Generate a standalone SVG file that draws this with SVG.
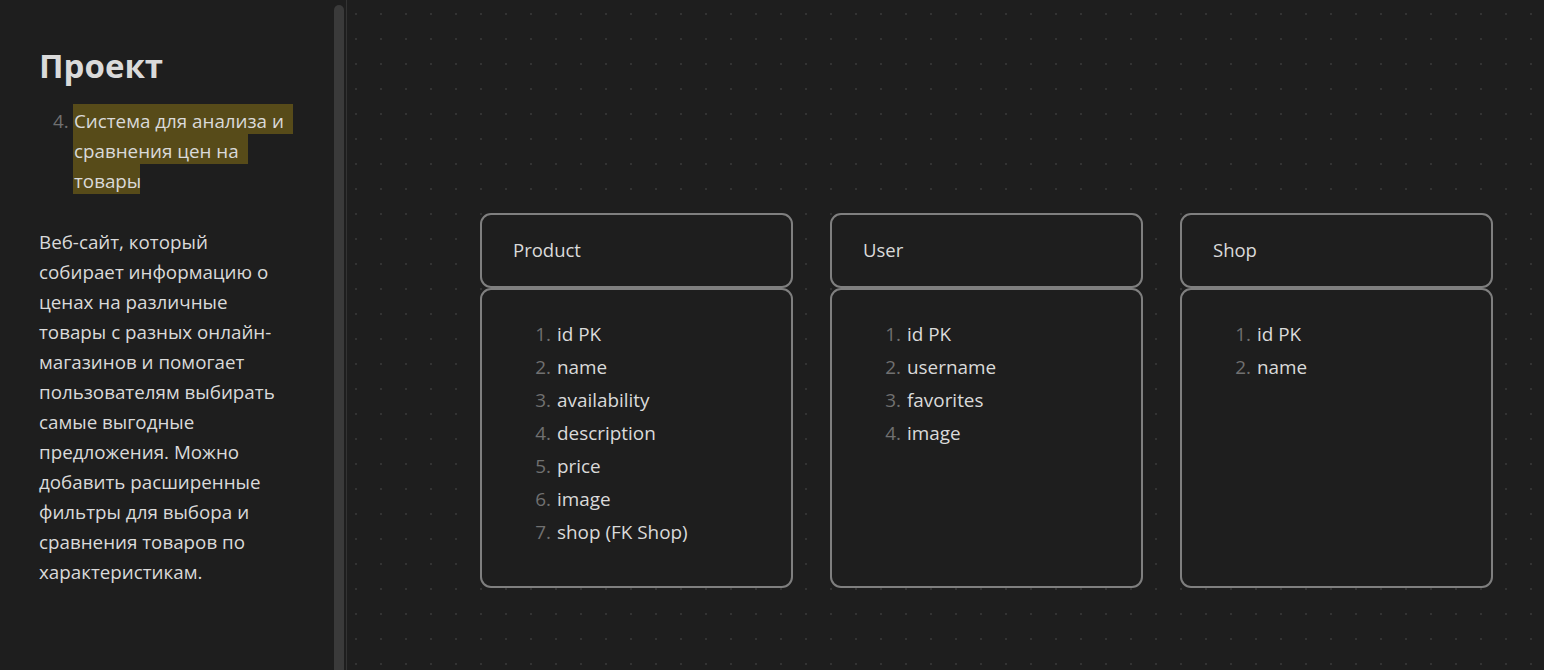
<svg xmlns="http://www.w3.org/2000/svg" width="1544" height="670" viewBox="0 0 1544 670">
  <defs>
    <pattern id="dots" x="355" y="13" width="25" height="25" patternUnits="userSpaceOnUse">
      <rect x="0" y="0" width="2" height="2" fill="#333333"/>
    </pattern>
    <style>
      .t { font-family: "Open Sans", "Noto Sans", sans-serif; fill: #dadada; }
      .side { font-size: 18.8px; }
      .num { fill: #707070; }
      .box { fill: #1e1e1e; stroke: #7f7f7f; stroke-width: 2; }
      .hd { font-size: 18.5px; }
      .it { font-size: 18.9px; }
      .hl { fill: #574b19; }
    </style>
  </defs>
  <rect x="0" y="0" width="1544" height="670" fill="#1e1e1e"/>
  <rect x="347" y="0" width="1197" height="670" fill="url(#dots)"/>
  <!-- scrollbar and divider -->
  <path d="M334 670 V10 A5 5 0 0 1 344 10 V670 Z" fill="#3a3a3a"/>
  <rect x="346" y="0" width="1" height="670" fill="#333333"/>

  <g id="sidebar">
    <text class="t" x="39" y="78" font-size="33" font-weight="bold">Проект</text>
    <rect class="hl" x="73" y="104" width="220" height="30"/>
    <rect class="hl" x="73" y="134" width="175" height="30"/>
    <rect class="hl" x="73" y="164" width="67" height="30"/>
    <text class="t side num" x="53" y="128">4.</text>
    <text class="t side" x="74" y="128">Система для анализа и</text>
    <text class="t side" x="74" y="158">сравнения цен на</text>
    <text class="t side" x="74" y="188">товары</text>
    <text class="t side" x="39" y="249">Веб-сайт, который</text>
    <text class="t side" x="39" y="279">собирает информацию о</text>
    <text class="t side" x="39" y="309">ценах на различные</text>
    <text class="t side" x="39" y="339">товары с разных онлайн-</text>
    <text class="t side" x="39" y="369">магазинов и помогает</text>
    <text class="t side" x="39" y="399">пользователям выбирать</text>
    <text class="t side" x="39" y="429">самые выгодные</text>
    <text class="t side" x="39" y="459">предложения. Можно</text>
    <text class="t side" x="39" y="489">добавить расширенные</text>
    <text class="t side" x="39" y="519">фильтры для выбора и</text>
    <text class="t side" x="39" y="549">сравнения товаров по</text>
    <text class="t side" x="39" y="579">характеристикам.</text>
  </g>

  <g id="product">
    <rect class="box" x="481" y="214" width="311" height="73" rx="10"/>
    <text class="t hd" x="513" y="257">Product</text>
    <rect class="box" x="481" y="289" width="311" height="298" rx="10"/>
    <g class="t it">
      <text class="num" x="551" y="341" text-anchor="end">1.</text><text x="557" y="341">id PK</text>
      <text class="num" x="551" y="374" text-anchor="end">2.</text><text x="557" y="374">name</text>
      <text class="num" x="551" y="407" text-anchor="end">3.</text><text x="557" y="407">availability</text>
      <text class="num" x="551" y="440" text-anchor="end">4.</text><text x="557" y="440">description</text>
      <text class="num" x="551" y="473" text-anchor="end">5.</text><text x="557" y="473">price</text>
      <text class="num" x="551" y="506" text-anchor="end">6.</text><text x="557" y="506">image</text>
      <text class="num" x="551" y="539" text-anchor="end">7.</text><text x="557" y="539">shop (FK Shop)</text>
    </g>
  </g>

  <g id="user">
    <rect class="box" x="831" y="214" width="311" height="73" rx="10"/>
    <text class="t hd" x="863" y="257">User</text>
    <rect class="box" x="831" y="289" width="311" height="298" rx="10"/>
    <g class="t it">
      <text class="num" x="901" y="341" text-anchor="end">1.</text><text x="907" y="341">id PK</text>
      <text class="num" x="901" y="374" text-anchor="end">2.</text><text x="907" y="374">username</text>
      <text class="num" x="901" y="407" text-anchor="end">3.</text><text x="907" y="407">favorites</text>
      <text class="num" x="901" y="440" text-anchor="end">4.</text><text x="907" y="440">image</text>
    </g>
  </g>

  <g id="shop">
    <rect class="box" x="1181" y="214" width="311" height="73" rx="10"/>
    <text class="t hd" x="1213" y="257">Shop</text>
    <rect class="box" x="1181" y="289" width="311" height="298" rx="10"/>
    <g class="t it">
      <text class="num" x="1251" y="341" text-anchor="end">1.</text><text x="1257" y="341">id PK</text>
      <text class="num" x="1251" y="374" text-anchor="end">2.</text><text x="1257" y="374">name</text>
    </g>
  </g>

  <g id="connectors"/>
</svg>
